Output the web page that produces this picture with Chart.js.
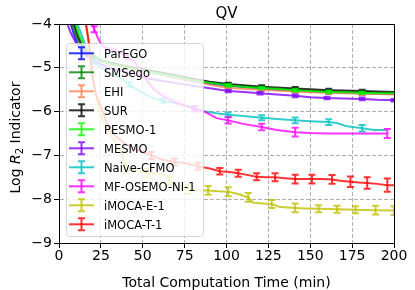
<!DOCTYPE html>
<html>
<head>
<meta charset="utf-8">
<script src="https://cdn.jsdelivr.net/npm/chart.js@4"></script>
<style>
  html, body { margin: 0; padding: 0; background: #fff; }
  #chart { display: block; }
</style>
</head>
<body>
<canvas id="chart" width="415" height="290"></canvas>
<script>
// --- data: time (min), log R2, error half-width (0 = no bar) ---
const paregoT = [5, 7, 9, 11, 13, 16, 20, 25, 30, 40, 50, 60, 70, 80, 90, 101, 110, 121, 130, 141, 150, 161, 170, 181, 190, 200];
const paregoV = [-3.6, -4.0, -4.25, -4.45, -4.58, -4.68, -4.76, -4.84, -4.9, -4.98, -5.06, -5.14, -5.22, -5.3, -5.36, -5.41, -5.44, -5.47, -5.5, -5.52, -5.54, -5.56, -5.57, -5.58, -5.59, -5.6];

const smsegoT = [6, 8, 10, 12, 14, 17, 20, 25, 30, 40, 50, 60, 70, 80, 90, 101, 110, 121, 130, 141, 150, 161, 170, 181, 190, 200];
const smsegoV = [-3.6, -4.0, -4.25, -4.42, -4.55, -4.66, -4.74, -4.83, -4.9, -4.98, -5.05, -5.12, -5.2, -5.27, -5.33, -5.39, -5.42, -5.45, -5.48, -5.5, -5.52, -5.54, -5.55, -5.56, -5.57, -5.58];

const ehiT = [8, 10, 12, 14, 16, 18, 21, 25, 30, 40, 50, 60, 70, 80, 90, 101, 110, 121, 130, 141, 150, 161, 170, 181, 190, 200];
const ehiV = [-3.6, -4.0, -4.25, -4.42, -4.55, -4.64, -4.74, -4.83, -4.9, -4.99, -5.07, -5.15, -5.23, -5.31, -5.39, -5.46, -5.48, -5.5, -5.52, -5.54, -5.56, -5.57, -5.58, -5.59, -5.6, -5.61];

const surT = [7, 9, 11, 13, 15, 18, 21, 25, 30, 40, 50, 60, 70, 80, 90, 101, 110, 121, 130, 141, 150, 161, 170, 181, 190, 200];
const surV = [-3.6, -4.0, -4.25, -4.42, -4.55, -4.65, -4.74, -4.82, -4.88, -4.96, -5.03, -5.1, -5.17, -5.25, -5.32, -5.37, -5.4, -5.43, -5.45, -5.47, -5.49, -5.51, -5.52, -5.53, -5.54, -5.55];

const pesmoT = [8, 10, 12, 14, 16, 19, 22, 26, 30, 40, 50, 60, 70, 80, 90, 101, 110, 121, 130, 141, 150, 161, 170, 181, 190, 200];
const pesmoV = [-3.6, -4.0, -4.25, -4.42, -4.55, -4.66, -4.75, -4.84, -4.9, -4.98, -5.06, -5.13, -5.2, -5.28, -5.34, -5.4, -5.43, -5.46, -5.48, -5.51, -5.53, -5.55, -5.56, -5.57, -5.58, -5.58];

// same error pattern for the five top curves
const groupErr = [0, 0, 0, 0, 0, 0, 0, 0, 0, 0, 0, 0, 0, 0, 0, 0.03, 0, 0.03, 0, 0.03, 0, 0.03, 0, 0.03, 0, 0];

const mesmoT = [3, 5, 7, 10, 13, 16, 20, 25, 30, 40, 54, 70, 87, 101, 110, 120, 130, 141, 150, 160, 170, 181, 190, 200];
const mesmoV = [-3.7, -4.0, -4.2, -4.42, -4.6, -4.72, -4.82, -4.92, -5.0, -5.1, -5.25, -5.35, -5.45, -5.53, -5.55, -5.58, -5.61, -5.64, -5.67, -5.69, -5.7, -5.71, -5.73, -5.74];
const mesmoE = [0, 0, 0, 0, 0, 0, 0, 0, 0, 0, 0, 0, 0, 0.03, 0, 0.03, 0, 0.03, 0, 0.03, 0, 0.03, 0, 0.03];

const cfmoT = [8, 11, 14, 17, 21, 25, 30, 35, 42, 49, 55, 62, 68, 75, 81, 87, 94, 101, 110, 121, 130, 141, 150, 161, 166, 171, 181, 188, 196];
const cfmoV = [-3.7, -4.0, -4.3, -4.6, -4.85, -5.0, -5.1, -5.2, -5.38, -5.55, -5.68, -5.75, -5.8, -5.85, -5.92, -6.0, -6.04, -6.07, -6.1, -6.14, -6.17, -6.2, -6.22, -6.24, -6.26, -6.33, -6.38, -6.42, -6.42];
const cfmoE = [0, 0, 0, 0, 0.05, 0, 0, 0, 0.05, 0, 0, 0.05, 0, 0, 0.05, 0, 0, 0.05, 0, 0.055, 0, 0.065, 0, 0.065, 0, 0, 0.075, 0, 0];

const osemoT = [19, 21, 23, 25, 27, 31, 35, 41, 45, 50, 53, 57, 63, 69, 75, 81, 87, 94, 101, 110, 121, 130, 141, 150, 161, 181, 196];
const osemoV = [-3.8, -4.12, -4.3, -4.45, -4.52, -4.57, -4.62, -4.75, -4.85, -5.14, -5.32, -5.5, -5.67, -5.78, -5.87, -5.94, -6.0, -6.15, -6.2, -6.28, -6.35, -6.42, -6.47, -6.49, -6.5, -6.5, -6.5];
const osemoE = [0, 0.07, 0, 0, 0, 0, 0, 0.06, 0, 0, 0, 0, 0, 0, 0, 0.06, 0, 0, 0.07, 0, 0.075, 0, 0.1, 0, 0, 0, 0.1];

const imocaET = [16, 18, 20, 22, 24, 26, 28, 31, 34, 38, 40, 45, 52, 58, 63, 66, 70, 77, 83, 89, 95, 101, 107, 113, 116, 120, 127, 132, 141, 148, 155, 166, 177, 189, 200];
const imocaEV = [-3.8, -4.6, -5.2, -5.6, -6.0, -6.2, -6.35, -6.55, -6.72, -7.0, -7.3, -7.35, -7.4, -7.42, -7.45, -7.58, -7.7, -7.78, -7.8, -7.8, -7.82, -7.83, -7.88, -7.96, -8.08, -8.09, -8.11, -8.18, -8.2, -8.21, -8.22, -8.23, -8.24, -8.25, -8.26];
const imocaEE = [0, 0, 0, 0, 0, 0, 0, 0, 0, 0, 0.1, 0, 0.1, 0, 0, 0.1, 0, 0.1, 0, 0.1, 0, 0.1, 0, 0.1, 0, 0, 0.09, 0, 0.1, 0, 0.08, 0.08, 0.08, 0.1, 0.1];

const imocaTT = [14, 16, 18, 20, 22, 25, 28, 31, 35, 40, 48, 55, 62, 69, 76, 83, 90, 96, 102, 107, 113, 118, 124, 129, 135, 141, 146, 151, 157, 163, 168, 174, 179, 184, 190, 196, 200];
const imocaTV = [-3.7, -4.0, -4.45, -5.2, -5.6, -5.9, -6.2, -6.45, -6.6, -6.75, -6.9, -7.0, -7.1, -7.15, -7.18, -7.25, -7.3, -7.36, -7.38, -7.41, -7.45, -7.49, -7.5, -7.5, -7.52, -7.54, -7.54, -7.54, -7.54, -7.55, -7.58, -7.6, -7.62, -7.63, -7.65, -7.68, -7.68];
const imocaTE = [0, 0, 0, 0, 0, 0, 0, 0, 0, 0, 0, 0.08, 0, 0.08, 0, 0.08, 0, 0.075, 0, 0.08, 0, 0.08, 0, 0.09, 0, 0.1, 0, 0.1, 0, 0.1, 0, 0.12, 0, 0.13, 0, 0.15, 0];

const xTicks = [0, 25, 50, 75, 100, 125, 150, 175, 200];
const yTicks = [-9, -8, -7, -6, -5, -4];

// --- series (legend order = matplotlib draw order) ---
const series = [
  { label: 'ParEGO',        t: paregoT, v: paregoV, e: groupErr, color: 'rgba(0,0,255,0.8)' },
  { label: 'SMSego',        t: smsegoT, v: smsegoV, e: groupErr, color: 'rgba(0,128,0,0.8)' },
  { label: 'EHI',           t: ehiT,    v: ehiV,    e: groupErr, color: 'rgba(255,127,80,0.8)' },
  { label: 'SUR',           t: surT,    v: surV,    e: groupErr, color: 'rgba(0,0,0,0.8)' },
  { label: 'PESMO-1',       t: pesmoT,  v: pesmoV,  e: groupErr, color: 'rgba(0,255,0,0.8)' },
  { label: 'MESMO',         t: mesmoT,  v: mesmoV,  e: mesmoE,   color: 'rgba(128,0,255,0.8)' },
  { label: 'Naive-CFMO',    t: cfmoT,   v: cfmoV,   e: cfmoE,    color: 'rgba(0,191,191,0.8)' },
  { label: 'MF-OSEMO-NI-1', t: osemoT,  v: osemoV,  e: osemoE,   color: 'rgba(255,0,255,0.8)' },
  { label: 'iMOCA-E-1',     t: imocaET, v: imocaEV, e: imocaEE,  color: 'rgba(191,191,0,0.8)' },
  { label: 'iMOCA-T-1',     t: imocaTT, v: imocaTV, e: imocaTE,  color: 'rgba(255,0,0,0.8)' }
];

series.forEach(s => {
  if (s.t.length !== s.v.length || s.t.length !== s.e.length) console.warn('length mismatch', s.label);
});

const FONT = 'DejaVu Sans';
const minus = v => String(v).replace('-', '\u2212');

// --- error bars, drawn right after each line ---
const errorBars = {
  id: 'errorBars',
  afterDatasetDraw(chart, args) {
    const ds = chart.data.datasets[args.index];
    const errs = ds.errors;
    if (!errs) return;
    const { ctx, chartArea: a, scales: { x, y } } = chart;
    ctx.save();
    ctx.beginPath();
    ctx.rect(a.left, a.top, a.right - a.left, a.bottom - a.top);
    ctx.clip();
    ctx.strokeStyle = ds.borderColor;
    ctx.lineWidth = 2;
    ds.data.forEach((p, k) => {
      const e = errs[k];
      if (!e) return;
      const px = x.getPixelForValue(p.x);
      const y1 = y.getPixelForValue(p.y + e);
      const y2 = y.getPixelForValue(p.y - e);
      ctx.beginPath();
      ctx.moveTo(px, y1); ctx.lineTo(px, y2);
      ctx.moveTo(px - 3.5, y1); ctx.lineTo(px + 3.5, y1);
      ctx.moveTo(px - 3.5, y2); ctx.lineTo(px + 3.5, y2);
      ctx.stroke();
    });
    ctx.restore();
  }
};

// --- legend box inside the plot, semi transparent like matplotlib ---
const boxLegend = {
  id: 'boxLegend',
  afterDatasetsDraw(chart) {
    const ctx = chart.ctx;
    ctx.save();
    ctx.beginPath();
    ctx.roundRect(66.5, 43.5, 137, 193, 3);
    ctx.fillStyle = 'rgba(255,255,255,0.8)';
    ctx.fill();
    ctx.strokeStyle = 'rgba(204,204,204,0.8)';
    ctx.lineWidth = 1;
    ctx.stroke();

    ctx.font = `11.5px "${FONT}"`;
    ctx.textAlign = 'left';
    ctx.textBaseline = 'alphabetic';
    series.forEach((s, i) => {
      const ry = 53.3 + 19 * i;
      ctx.strokeStyle = s.color;
      ctx.lineWidth = 2;
      ctx.beginPath();
      ctx.moveTo(69, ry); ctx.lineTo(94, ry);
      ctx.stroke();
      ctx.beginPath();
      ctx.moveTo(81.5, ry - 6); ctx.lineTo(81.5, ry + 6);
      ctx.moveTo(78, ry - 6); ctx.lineTo(85, ry - 6);
      ctx.moveTo(78, ry + 6); ctx.lineTo(85, ry + 6);
      ctx.stroke();
      ctx.fillStyle = '#000';
      ctx.fillText(s.label, 104, ry + 4.5);
    });
    ctx.restore();
  }
};

// --- frame, title, axis titles ---
const frameAndTitles = {
  id: 'frameAndTitles',
  afterDraw(chart) {
    const { ctx, chartArea: a } = chart;
    ctx.save();
    ctx.strokeStyle = '#000';
    ctx.lineWidth = 1;
    ctx.strokeRect(Math.round(a.left) + 0.5, Math.round(a.top) + 0.5,
                   Math.round(a.right - a.left), Math.round(a.bottom - a.top));

    const cx = (a.left + a.right) / 2;
    ctx.fillStyle = '#000';
    ctx.textAlign = 'center';
    ctx.textBaseline = 'alphabetic';
    ctx.font = `15px "${FONT}"`;
    ctx.fillText('QV', cx, 18);
    ctx.font = `14px "${FONT}"`;
    ctx.fillText('Total Computation Time (min)', cx, 287);

    // y title: Log R_2 Indicator (R italic, 2 subscript)
    const parts = [
      { s: 'Log ', f: `14px "${FONT}"`, dy: 0 },
      { s: 'R', f: `oblique 14px "${FONT}"`, dy: 0 },
      { s: '2', f: `10px "${FONT}"`, dy: 3 },
      { s: ' Indicator', f: `14px "${FONT}"`, dy: 0 }
    ];
    let total = 0;
    parts.forEach(p => { ctx.font = p.f; p.w = ctx.measureText(p.s).width; total += p.w; });
    ctx.translate(20, (a.top + a.bottom) / 2 + 4);
    ctx.rotate(-Math.PI / 2);
    ctx.textAlign = 'left';
    let px = -total / 2;
    parts.forEach(p => { ctx.font = p.f; ctx.fillText(p.s, px, p.dy); px += p.w; });
    ctx.restore();
  }
};

const datasets = series.map((s, i) => ({
  label: s.label,
  data: s.t.map((t, k) => ({ x: t, y: s.v[k] })),
  errors: s.e,
  borderColor: s.color,
  backgroundColor: s.color,
  borderWidth: 2,
  pointRadius: 0,
  tension: 0,
  fill: false,
  order: series.length - i
}));

new Chart(document.getElementById('chart'), {
  type: 'line',
  data: { datasets },
  options: {
    responsive: false,
    animation: false,
    events: [],
    layout: { padding: { left: 0, top: 24, right: 21, bottom: 0 } },
    plugins: { legend: { display: false }, tooltip: { enabled: false }, title: { display: false } },
    scales: {
      x: {
        type: 'linear', min: xTicks[0], max: xTicks[xTicks.length - 1],
        afterBuildTicks: s => { s.ticks = xTicks.map(v => ({ value: v })); },
        ticks: { color: '#000', font: { family: FONT, size: 14 }, padding: 0, maxRotation: 0, autoSkip: false, callback: v => minus(v) },
        grid: { color: '#b0b0b0', lineWidth: 1, drawTicks: true, tickLength: 5, tickColor: '#000', tickWidth: 1 },
        border: { display: true, color: '#000', width: 1, dash: [4, 2] },
        afterFit: s => { s.height = 47; }
      },
      y: {
        type: 'linear', min: yTicks[0], max: yTicks[yTicks.length - 1],
        afterBuildTicks: s => { s.ticks = yTicks.map(v => ({ value: v })); },
        ticks: { color: '#000', font: { family: FONT, size: 14 }, padding: 2, autoSkip: false, callback: v => minus(v) },
        grid: { color: '#b0b0b0', lineWidth: 1, drawTicks: true, tickLength: 5, tickColor: '#000', tickWidth: 1 },
        border: { display: true, color: '#000', width: 1, dash: [4, 2] },
        afterFit: s => { s.width = 59; }
      }
    }
  },
  plugins: [errorBars, boxLegend, frameAndTitles]
});
</script>
</body>
</html>
